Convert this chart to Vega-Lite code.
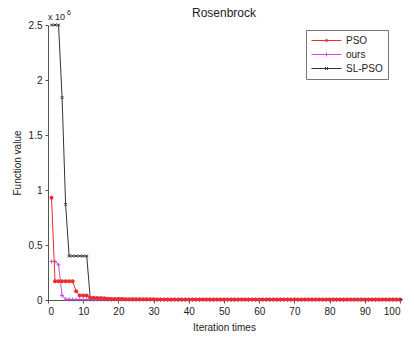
{
  "$schema": "https://vega.github.io/schema/vega-lite/v6.json",
  "autosize": "none",
  "width": 352,
  "height": 275,
  "padding": {"left": 48, "top": 25, "right": 14, "bottom": 43},
  "background": "white",
  "config": {
    "font": "Liberation Sans",
    "view": {"stroke": null},
    "axis": {"grid": false, "domainColor": "#555", "tickColor": "#555", "labelColor": "#222", "titleColor": "#222", "labelFontSize": 10, "titleFontSize": 10, "titleFontWeight": "normal", "tickSize": 3}
  },
  "title": {"text": "Rosenbrock", "fontSize": 12, "fontWeight": "normal", "font": "Liberation Sans", "color": "#222", "offset": 0, "dy": 11},
  "data": {"values": [
    {"t":1,"PSO":930000,"ours":350000,"SL-PSO":2500000},
    {"t":2,"PSO":170000,"ours":350000,"SL-PSO":2500000},
    {"t":3,"PSO":170000,"ours":320000,"SL-PSO":2500000},
    {"t":4,"PSO":170000,"ours":40000,"SL-PSO":1840000},
    {"t":5,"PSO":170000,"ours":8000,"SL-PSO":870000},
    {"t":6,"PSO":170000,"ours":6000,"SL-PSO":400000},
    {"t":7,"PSO":170000,"ours":5000,"SL-PSO":400000},
    {"t":8,"PSO":80000,"ours":5000,"SL-PSO":400000},
    {"t":9,"PSO":40000,"ours":4000,"SL-PSO":400000},
    {"t":10,"PSO":40000,"ours":4000,"SL-PSO":400000},
    {"t":11,"PSO":40000,"ours":4000,"SL-PSO":400000},
    {"t":12,"PSO":20000,"ours":3000,"SL-PSO":15000},
    {"t":13,"PSO":20000,"ours":3000,"SL-PSO":12000},
    {"t":14,"PSO":18000,"ours":3000,"SL-PSO":12000},
    {"t":15,"PSO":18000,"ours":3000,"SL-PSO":10000},
    {"t":16,"PSO":15000,"ours":3000,"SL-PSO":10000},
    {"t":17,"PSO":12000,"ours":3000,"SL-PSO":10000},
    {"t":18,"PSO":8000,"ours":2500,"SL-PSO":8000},
    {"t":19,"PSO":8000,"ours":2500,"SL-PSO":8000},
    {"t":20,"PSO":8000,"ours":2500,"SL-PSO":8000},
    {"t":21,"PSO":8000,"ours":2500,"SL-PSO":8000},
    {"t":22,"PSO":7000,"ours":2500,"SL-PSO":7000},
    {"t":23,"PSO":7000,"ours":2500,"SL-PSO":7000},
    {"t":24,"PSO":7000,"ours":2500,"SL-PSO":7000},
    {"t":25,"PSO":7000,"ours":2500,"SL-PSO":7000},
    {"t":26,"PSO":6000,"ours":2500,"SL-PSO":6000},
    {"t":27,"PSO":6000,"ours":2500,"SL-PSO":6000},
    {"t":28,"PSO":6000,"ours":2500,"SL-PSO":6000},
    {"t":29,"PSO":6000,"ours":2500,"SL-PSO":6000},
    {"t":30,"PSO":6000,"ours":2500,"SL-PSO":6000},
    {"t":31,"PSO":5000,"ours":2000,"SL-PSO":5000},
    {"t":32,"PSO":5000,"ours":2000,"SL-PSO":5000},
    {"t":33,"PSO":5000,"ours":2000,"SL-PSO":5000},
    {"t":34,"PSO":5000,"ours":2000,"SL-PSO":5000},
    {"t":35,"PSO":5000,"ours":2000,"SL-PSO":5000},
    {"t":36,"PSO":5000,"ours":2000,"SL-PSO":5000},
    {"t":37,"PSO":5000,"ours":2000,"SL-PSO":5000},
    {"t":38,"PSO":5000,"ours":2000,"SL-PSO":5000},
    {"t":39,"PSO":5000,"ours":2000,"SL-PSO":5000},
    {"t":40,"PSO":5000,"ours":2000,"SL-PSO":5000},
    {"t":41,"PSO":5000,"ours":2000,"SL-PSO":5000},
    {"t":42,"PSO":5000,"ours":2000,"SL-PSO":5000},
    {"t":43,"PSO":5000,"ours":2000,"SL-PSO":5000},
    {"t":44,"PSO":5000,"ours":2000,"SL-PSO":5000},
    {"t":45,"PSO":5000,"ours":2000,"SL-PSO":5000},
    {"t":46,"PSO":5000,"ours":2000,"SL-PSO":5000},
    {"t":47,"PSO":5000,"ours":2000,"SL-PSO":5000},
    {"t":48,"PSO":5000,"ours":2000,"SL-PSO":5000},
    {"t":49,"PSO":5000,"ours":2000,"SL-PSO":5000},
    {"t":50,"PSO":5000,"ours":2000,"SL-PSO":5000},
    {"t":51,"PSO":5000,"ours":2000,"SL-PSO":4000},
    {"t":52,"PSO":5000,"ours":2000,"SL-PSO":4000},
    {"t":53,"PSO":5000,"ours":2000,"SL-PSO":4000},
    {"t":54,"PSO":5000,"ours":2000,"SL-PSO":4000},
    {"t":55,"PSO":5000,"ours":2000,"SL-PSO":4000},
    {"t":56,"PSO":5000,"ours":2000,"SL-PSO":4000},
    {"t":57,"PSO":5000,"ours":2000,"SL-PSO":4000},
    {"t":58,"PSO":5000,"ours":2000,"SL-PSO":4000},
    {"t":59,"PSO":5000,"ours":2000,"SL-PSO":4000},
    {"t":60,"PSO":5000,"ours":2000,"SL-PSO":4000},
    {"t":61,"PSO":4000,"ours":2000,"SL-PSO":4000},
    {"t":62,"PSO":4000,"ours":2000,"SL-PSO":4000},
    {"t":63,"PSO":4000,"ours":2000,"SL-PSO":4000},
    {"t":64,"PSO":4000,"ours":2000,"SL-PSO":4000},
    {"t":65,"PSO":4000,"ours":2000,"SL-PSO":4000},
    {"t":66,"PSO":4000,"ours":2000,"SL-PSO":4000},
    {"t":67,"PSO":4000,"ours":2000,"SL-PSO":4000},
    {"t":68,"PSO":4000,"ours":2000,"SL-PSO":4000},
    {"t":69,"PSO":4000,"ours":2000,"SL-PSO":4000},
    {"t":70,"PSO":4000,"ours":2000,"SL-PSO":4000},
    {"t":71,"PSO":4000,"ours":1500,"SL-PSO":3500},
    {"t":72,"PSO":4000,"ours":1500,"SL-PSO":3500},
    {"t":73,"PSO":4000,"ours":1500,"SL-PSO":3500},
    {"t":74,"PSO":4000,"ours":1500,"SL-PSO":3500},
    {"t":75,"PSO":4000,"ours":1500,"SL-PSO":3500},
    {"t":76,"PSO":4000,"ours":1500,"SL-PSO":3500},
    {"t":77,"PSO":4000,"ours":1500,"SL-PSO":3500},
    {"t":78,"PSO":4000,"ours":1500,"SL-PSO":3500},
    {"t":79,"PSO":4000,"ours":1500,"SL-PSO":3500},
    {"t":80,"PSO":4000,"ours":1500,"SL-PSO":3500},
    {"t":81,"PSO":3500,"ours":1500,"SL-PSO":3000},
    {"t":82,"PSO":3500,"ours":1500,"SL-PSO":3000},
    {"t":83,"PSO":3500,"ours":1500,"SL-PSO":3000},
    {"t":84,"PSO":3500,"ours":1500,"SL-PSO":3000},
    {"t":85,"PSO":3500,"ours":1500,"SL-PSO":3000},
    {"t":86,"PSO":3500,"ours":1500,"SL-PSO":3000},
    {"t":87,"PSO":3500,"ours":1500,"SL-PSO":3000},
    {"t":88,"PSO":3500,"ours":1500,"SL-PSO":3000},
    {"t":89,"PSO":3500,"ours":1500,"SL-PSO":3000},
    {"t":90,"PSO":3500,"ours":1500,"SL-PSO":3000},
    {"t":91,"PSO":3500,"ours":1500,"SL-PSO":3000},
    {"t":92,"PSO":3500,"ours":1500,"SL-PSO":3000},
    {"t":93,"PSO":3500,"ours":1500,"SL-PSO":3000},
    {"t":94,"PSO":3500,"ours":1500,"SL-PSO":3000},
    {"t":95,"PSO":3500,"ours":1500,"SL-PSO":3000},
    {"t":96,"PSO":3500,"ours":1500,"SL-PSO":3000},
    {"t":97,"PSO":3500,"ours":1500,"SL-PSO":3000},
    {"t":98,"PSO":3500,"ours":1500,"SL-PSO":3000},
    {"t":99,"PSO":3500,"ours":1500,"SL-PSO":3000},
    {"t":100,"PSO":3500,"ours":1500,"SL-PSO":3000}
  ]},
  "transform": [{"fold": ["PSO", "ours", "SL-PSO"], "as": ["series", "v"]}],
  "encoding": {
    "x": {"field": "t", "type": "quantitative", "scale": {"domain": [0, 100], "nice": false},
      "axis": {"title": "Iteration times", "values": [0,10,20,30,40,50,60,70,80,90,100], "titlePadding": 6, "labelPadding": 3}},
    "y": {"field": "v", "type": "quantitative", "scale": {"domain": [0, 2500000], "nice": false},
      "axis": {"title": "Function value", "values": [0,500000,1000000,1500000,2000000,2500000], "labelExpr": "format(datum.value/1000000, '~g')", "titlePadding": 6, "labelPadding": 3}}
  },
  "layer": [
    {
      "transform": [{"filter": "datum.series == 'SL-PSO'"}],
      "layer": [
        {"mark": {"type": "line", "strokeWidth": 1, "color": "#333333", "clip": false}},
        {"mark": {"type": "point", "shape": "M-1,-1L1,1M-1,1L1,-1", "filled": false, "size": 8, "strokeWidth": 1, "color": "#333333", "opacity": 1}}
      ]
    },
    {
      "transform": [{"filter": "datum.series == 'ours'"}],
      "layer": [
        {"mark": {"type": "line", "strokeWidth": 1, "color": "#c44fd8", "clip": false}},
        {"mark": {"type": "point", "shape": "M-1,0L1,0M0,-1L0,1", "filled": false, "size": 16, "strokeWidth": 1, "color": "#c44fd8", "opacity": 1}}
      ]
    },
    {
      "transform": [{"filter": "datum.series == 'PSO'"}],
      "layer": [
        {"mark": {"type": "line", "strokeWidth": 1, "color": "#ee2b2b", "clip": false}},
        {"mark": {"type": "point", "shape": "circle", "filled": true, "size": 16, "color": "#ee2b2b", "opacity": 1}}
      ]
    },
    {
      "transform": [{"filter": "datum.t == 100"}],
      "mark": {"type": "point", "filled": false, "strokeWidth": 1, "opacity": 1, "size": 1},
      "encoding": {
        "color": {"field": "series", "type": "nominal",
          "scale": {"domain": ["PSO", "ours", "SL-PSO"], "range": ["#ee2b2b", "#c44fd8", "#333333"]},
          "legend": {"title": null, "orient": "none", "legendX": 258, "legendY": 5, "strokeColor": "#777", "fillColor": "white", "padding": 5, "rowPadding": 3, "labelFontSize": 10, "labelColor": "#222", "symbolSize": 100, "symbolStrokeWidth": 1, "labelOffset": 24}},
        "shape": {"field": "series", "type": "nominal",
          "scale": {"domain": ["PSO", "ours", "SL-PSO"], "range": ["M-1,0H5M1.75,0A0.25,0.25 0 1,0 2.25,0A0.25,0.25 0 1,0 1.75,0", "M-1,0H5M2,-0.4V0.4", "M-1,0H5M1.7,-0.3L2.3,0.3M1.7,0.3L2.3,-0.3"]},
          "legend": {"title": null, "orient": "none", "legendX": 258, "legendY": 5, "strokeColor": "#777", "fillColor": "white", "padding": 5, "rowPadding": 3, "labelFontSize": 10, "labelColor": "#222", "symbolSize": 100, "symbolStrokeWidth": 1, "labelOffset": 24}}
      }
    },
    {
      "data": {"values": [{"t": 0, "v": 2500000, "lab": "x 10", "sup": "6"}]},
      "transform": [],
      "layer": [
        {"mark": {"type": "text", "align": "left", "baseline": "alphabetic", "dx": 0, "dy": -5, "fontSize": 9, "color": "#222"}, "encoding": {"text": {"field": "lab"}}},
        {"mark": {"type": "text", "align": "left", "baseline": "alphabetic", "dx": 19, "dy": -10, "fontSize": 7, "color": "#222"}, "encoding": {"text": {"field": "sup"}}}
      ]
    }
  ]
}
